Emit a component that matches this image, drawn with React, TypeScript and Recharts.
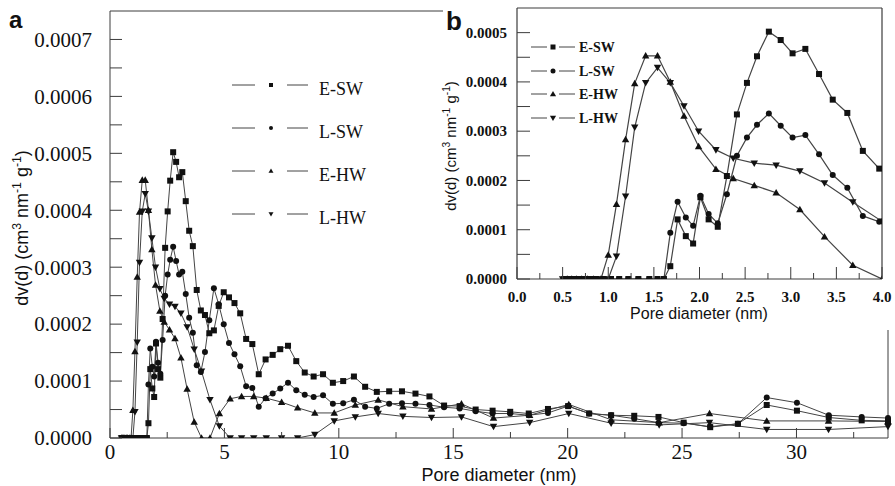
import { Line, LineChart, ReferenceLine, XAxis, YAxis } from "recharts";

// pore diameter grids (nm)
const SW_D = [
  0.52, 0.57, 0.62, 0.68, 0.74, 0.8, 0.87, 0.95, 1.03, 1.12, 1.22, 1.33, 1.45, 1.54, 1.61,
  1.68, 1.76, 1.85, 1.93, 2.01, 2.1, 2.2, 2.3, 2.41, 2.52, 2.63, 2.76, 2.89, 3.02, 3.16, 3.31, 3.46, 3.62, 3.79, 3.97,
  4.15, 4.34, 4.54, 4.75, 4.97, 5.2, 5.44, 5.69, 5.95, 6.22, 6.5, 6.8, 7.11, 7.44, 7.78, 8.14, 8.51, 8.9, 9.31, 9.74,
  10.19, 10.66, 11.15, 11.66, 12.2, 12.76, 13.35, 13.96, 14.6, 15.28, 15.98, 16.72, 17.49, 18.3, 19.14, 20.02,
  20.94, 21.9, 22.91, 23.97, 25.07, 26.23, 27.44, 28.7, 30.02, 31.41, 32.85, 34.0,
];
const HW_D = [
  0.5, 0.55, 0.6, 0.65, 0.71, 0.77, 0.84, 0.92,
  1.0, 1.09, 1.19, 1.29, 1.41, 1.54, 1.68, 1.83, 1.99, 2.18, 2.37, 2.6, 2.84, 3.1, 3.37, 3.68, 4.0,
  4.37, 4.78, 5.25, 5.75, 6.28, 6.83, 7.5, 8.2, 8.95, 9.8, 10.72, 11.72, 12.8, 14.05, 15.36, 16.76, 18.34,
  20.05, 21.9, 24.0, 26.2, 28.7, 31.4, 34.0,
];

// dv(d) in units of 1e-4 cm3 nm-1 g-1
const E_SW = [
  0, 0, 0, 0, 0, 0, 0, 0, 0, 0, 0, 0, 0, 0, 0,
  0.26, 1.21, 0.87, 0.72, 1.66, 1.21, 1.06, 2.09, 3.34, 3.98, 4.52, 5.02, 4.85, 4.58, 4.67, 4.16, 3.64, 3.37, 2.6, 2.24,
  2.16, 1.84, 1.89, 2.32, 2.56, 2.47, 2.37, 2.19, 1.74, 1.65, 1.12, 1.38, 1.46, 1.56, 1.62, 1.35, 1.15, 1.08, 1.12, 0.97,
  1.0, 1.08, 0.9, 0.81, 0.82, 0.82, 0.78, 0.73, 0.57, 0.56, 0.5, 0.48, 0.46, 0.43, 0.51, 0.56,
  0.43, 0.4, 0.39, 0.37, 0.27, 0.19, 0.25, 0.58, 0.48, 0.36, 0.31, 0.3,
];
const L_SW = [
  0, 0, 0, 0, 0, 0, 0, 0, 0, 0, 0, 0, 0, 0, 0,
  0.94, 1.57, 1.25, 1.08, 1.69, 1.32, 1.13, 1.72, 2.5, 2.87, 3.13, 3.36, 3.11, 2.87, 2.92, 2.53, 2.11, 1.85, 1.28, 1.16,
  1.51, 2.07, 2.63, 2.35, 2.0, 1.67, 1.47, 1.26, 0.91, 0.88, 0.55, 0.7, 0.78, 0.87, 0.97, 0.84, 0.76, 0.72, 0.75, 0.6,
  0.61, 0.67, 0.55, 0.52, 0.6, 0.61, 0.6, 0.58, 0.54, 0.52, 0.47, 0.43, 0.43, 0.4, 0.44, 0.56,
  0.43, 0.4, 0.34, 0.27, 0.26, 0.2, 0.25, 0.71, 0.62, 0.4, 0.37, 0.35,
];
const E_HW = [
  0, 0, 0, 0, 0, 0, 0, 0,
  0.49, 1.52, 2.83, 3.97, 4.53, 4.53, 4.0, 3.31, 2.69, 2.23, 2.04, 1.9, 1.75, 1.41, 0.86, 0.28, 0,
  0, 0.43, 0.69, 0.73, 0.73, 0.7, 0.63, 0.53, 0.44, 0.44, 0.58, 0.67, 0.55, 0.51, 0.6, 0.35, 0.4,
  0.59, 0.32, 0.27, 0.43, 0.3, 0.3, 0.29,
];
const L_HW = [
  0, 0, 0, 0, 0, 0, 0, 0,
  0, 0.46, 1.68, 3.08, 3.98, 4.29, 3.98, 3.51, 3.0, 2.62, 2.45, 2.35, 2.31, 2.19, 1.95, 1.56, 1.17,
  0.67, 0.21, 0, 0, 0, 0, 0, 0, 0.06, 0.3, 0.37, 0.43, 0.38, 0.36, 0.37, 0.2, 0.27,
  0.43, 0.26, 0.23, 0.27, 0.15, 0.15, 0.2,
];

const SERIES = ["E-SW", "L-SW", "E-HW", "L-HW"];

const MAIN_X_MAJOR = [0, 5, 10, 15, 20, 25, 30];
const MAIN_X_MINOR = [2.5, 7.5, 12.5, 17.5, 22.5, 27.5, 32.5];
const MAIN_Y_MAJOR = [0, 1, 2, 3, 4, 5, 6, 7];
const MAIN_Y_MINOR = [0.5, 1.5, 2.5, 3.5, 4.5, 5.5, 6.5];
const INSET_X_MAJOR = [0, 0.5, 1, 1.5, 2, 2.5, 3, 3.5, 4];
const INSET_X_MINOR = [0.25, 0.75, 1.25, 1.75, 2.25, 2.75, 3.25, 3.75];
const INSET_Y_MAJOR = [0, 1, 2, 3, 4, 5];
const INSET_Y_MINOR = [0.5, 1.5, 2.5, 3.5, 4.5];

type Shape = "square" | "circle" | "up" | "down";
const SHAPES: Shape[] = ["square", "circle", "up", "down"];

const rows = (ds: number[], vs: number[]) => ds.map((d, i) => ({ d, v: vs[i] }));
const DATA = [rows(SW_D, E_SW), rows(SW_D, L_SW), rows(HW_D, E_HW), rows(HW_D, L_HW)];

const INK = "#111";
const AXIS = "#3c3c3c";
const LINE = "#444";
const SERIF = "'Liberation Serif', 'Times New Roman', serif";
const SANS = "'Liberation Sans', Arial, sans-serif";

function Marker({ shape, cx, cy, s }: { shape: Shape; cx: number; cy: number; s: number }) {
  if (cx == null || cy == null || isNaN(cx) || isNaN(cy)) return null;
  const h = s / 2;
  if (shape === "square") return <rect x={cx - h} y={cy - h} width={s} height={s} fill={INK} />;
  if (shape === "circle") return <circle cx={cx} cy={cy} r={h} fill={INK} />;
  const t = s * 0.62;
  if (shape === "up")
    return <path d={`M${cx},${cy - t}L${cx + t},${cy + t * 0.75}L${cx - t},${cy + t * 0.75}Z`} fill={INK} />;
  return <path d={`M${cx},${cy + t}L${cx + t},${cy - t * 0.75}L${cx - t},${cy - t * 0.75}Z`} fill={INK} />;
}

const dotFor = (shape: Shape, s: number) => (p: any) => (
  <Marker key={`m-${shape}-${p.index}`} shape={shape} cx={p.cx} cy={p.cy} s={s} />
);

const xTick = (major: number[], fmt: (v: number) => string, len: [number, number], fs: number, dy: number, bold: boolean) =>
  (p: any) => {
    const v = p.payload.value;
    const isMajor = major.includes(v);
    return (
      <g key={`xt-${v}`}>
        <line x1={p.x} x2={p.x} y1={p.y} y2={p.y - (isMajor ? len[0] : len[1])} stroke={AXIS} strokeWidth={1} />
        {isMajor && (
          <text x={p.x} y={p.y + dy} textAnchor="middle" fontFamily={SERIF} fontSize={fs} fontWeight={bold ? 700 : 400} fill={INK}>
            {fmt(v)}
          </text>
        )}
      </g>
    );
  };

const yTick = (major: number[], len: number, fs: number, gap: number, bold: boolean) => (p: any) => {
  const v = p.payload.value;
  const isMajor = major.includes(v);
  return (
    <g key={`yt-${v}`}>
      <line x1={p.x} x2={p.x + len} y1={p.y} y2={p.y} stroke={AXIS} strokeWidth={1} />
      {isMajor && (
        <text x={p.x - gap} y={p.y} dy={fs * 0.35} textAnchor="end" fontFamily={SERIF} fontSize={fs} fontWeight={bold ? 700 : 400} fill={INK}>
          {(v / 10000).toFixed(4)}
        </text>
      )}
    </g>
  );
};

function YTitle({ x, y, fs }: { x: number; y: number; fs: number }) {
  const sup = fs * 0.68;
  const up = fs * 0.4;
  return (
    <text transform={`translate(${x},${y}) rotate(-90)`} textAnchor="middle" dy={fs * 0.35} fontFamily={SANS} fontSize={fs} fill={INK}>
      dv(d) (cm
      <tspan dy={-up} fontSize={sup}>3</tspan>
      <tspan dy={up}> nm</tspan>
      <tspan dy={-up} fontSize={sup}>-1</tspan>
      <tspan dy={up}> g</tspan>
      <tspan dy={-up} fontSize={sup}>-1</tspan>
      <tspan dy={up}>)</tspan>
    </text>
  );
}

function LegendBlock({ rowsY, seg1, seg2, mx, tx, ms, fs, bold }: {
  rowsY: number[]; seg1: [number, number]; seg2: [number, number]; mx: number; tx: number; ms: number; fs: number; bold: boolean;
}) {
  return (
    <g>
      {SERIES.map((name, i) => (
        <g key={name}>
          <line x1={seg1[0]} x2={seg1[1]} y1={rowsY[i]} y2={rowsY[i]} stroke={LINE} strokeWidth={1} />
          <line x1={seg2[0]} x2={seg2[1]} y1={rowsY[i]} y2={rowsY[i]} stroke={LINE} strokeWidth={1} />
          <Marker shape={SHAPES[i]} cx={mx} cy={rowsY[i]} s={ms} />
          <text x={tx} y={rowsY[i]} dy={fs * 0.36 + (bold ? 0 : 4)} fontFamily={SERIF} fontSize={fs} fontWeight={bold ? 700 : 400} fill={INK}>
            {name}
          </text>
        </g>
      ))}
    </g>
  );
}

export default function App() {
  return (
    <div style={{ position: "absolute", left: 0, top: 0, width: 895, height: 486, background: "#fff", overflow: "hidden" }}>
      <div style={{ position: "absolute", left: 0, top: 0 }}>
        <LineChart width={895} height={486} margin={{ top: 11, right: 7, bottom: 0, left: 0 }}>
          <XAxis
            type="number"
            dataKey="d"
            domain={[0, 34]}
            ticks={[...MAIN_X_MAJOR, ...MAIN_X_MINOR]}
            interval={0}
            height={48}
            tickLine={false}
            tickSize={0}
            tickMargin={0}
            axisLine={{ stroke: AXIS, strokeWidth: 1 }}
            tick={xTick(MAIN_X_MAJOR, (v) => String(v), [10, 6], 21, 21, false)}
          />
          <YAxis
            type="number"
            domain={[0, 7.5]}
            allowDataOverflow
            ticks={[...MAIN_Y_MAJOR, ...MAIN_Y_MINOR]}
            interval={0}
            width={110}
            tickLine={false}
            tickSize={0}
            tickMargin={0}
            axisLine={{ stroke: AXIS, strokeWidth: 1 }}
            tick={yTick(MAIN_Y_MAJOR, 12, 21, 18, false)}
          />
          <ReferenceLine y={7.5} stroke={AXIS} strokeWidth={1} />
          <ReferenceLine x={34} stroke={AXIS} strokeWidth={1} />
          {DATA.map((d, i) => (
            <Line
              key={SERIES[i]}
              data={d}
              dataKey="v"
              name={SERIES[i]}
              type="linear"
              stroke={LINE}
              strokeWidth={1}
              dot={dotFor(SHAPES[i], 6)}
              activeDot={false}
              isAnimationActive={false}
            />
          ))}
        </LineChart>
      </div>

      <div style={{ position: "absolute", left: 443, top: 0, width: 452, height: 330, background: "#fff" }} />

      <div style={{ position: "absolute", left: 440, top: 0 }}>
        <LineChart width={455} height={320} margin={{ top: 8, right: 13, bottom: 0, left: 0 }}>
          <XAxis
            type="number"
            dataKey="d"
            domain={[0, 4]}
            allowDataOverflow
            ticks={[...INSET_X_MAJOR, ...INSET_X_MINOR]}
            interval={0}
            height={41}
            tickLine={false}
            tickSize={0}
            tickMargin={0}
            axisLine={{ stroke: AXIS, strokeWidth: 1.2 }}
            tick={xTick(INSET_X_MAJOR, (v) => v.toFixed(1), [12, 6], 15, 23, true)}
          />
          <YAxis
            type="number"
            domain={[0, 5.5]}
            allowDataOverflow
            ticks={[...INSET_Y_MAJOR, ...INSET_Y_MINOR]}
            interval={0}
            width={77}
            tickLine={false}
            tickSize={0}
            tickMargin={0}
            axisLine={{ stroke: AXIS, strokeWidth: 1.2 }}
            tick={yTick(INSET_Y_MAJOR, 13, 15, 10, true)}
          />
          <ReferenceLine y={5.5} stroke={AXIS} strokeWidth={1.2} />
          <ReferenceLine x={4} stroke={AXIS} strokeWidth={1.2} />
          {DATA.map((d, i) => (
            <Line
              key={SERIES[i]}
              data={d}
              dataKey="v"
              name={SERIES[i]}
              type="linear"
              stroke={LINE}
              strokeWidth={1.2}
              dot={dotFor(SHAPES[i], 6)}
              activeDot={false}
              isAnimationActive={false}
            />
          ))}
        </LineChart>
      </div>

      <svg width={895} height={486} style={{ position: "absolute", left: 0, top: 0, pointerEvents: "none" }}>
        <text x={9} y={28} fontFamily={SANS} fontSize={24} fontWeight={700} fill={INK}>a</text>
        <text x={446} y={30} fontFamily={SANS} fontSize={26} fontWeight={700} fill={INK}>b</text>
        <text x={499} y={481} textAnchor="middle" fontFamily={SANS} fontSize={18} fill={INK}>Pore diameter (nm)</text>
        <YTitle x={22} y={228} fs={18} />
        <text x={699} y={319} textAnchor="middle" fontFamily={SANS} fontSize={16} fill={INK}>Pore diameter (nm)</text>
        <YTitle x={451} y={146} fs={15} />
        <LegendBlock rowsY={[85, 128, 171, 214]} seg1={[232, 255]} seg2={[287, 308]} mx={271} tx={319} ms={4} fs={18} bold={false} />
        <LegendBlock rowsY={[47, 71, 94, 118]} seg1={[531, 547]} seg2={[559, 575]} mx={553} tx={579} ms={5} fs={14} bold={true} />
      </svg>
    </div>
  );
}
